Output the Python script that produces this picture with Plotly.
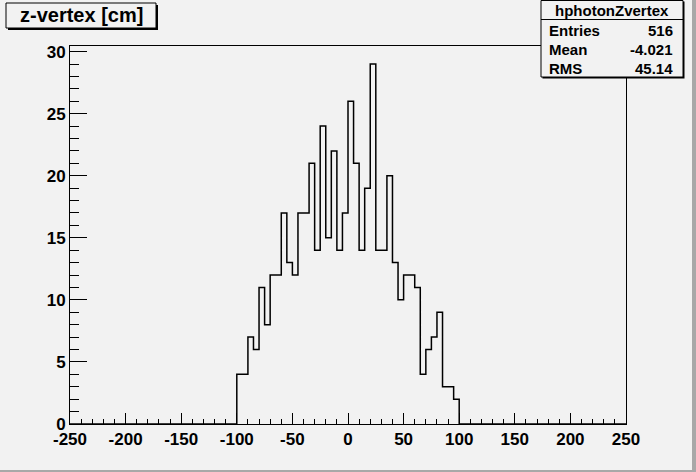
import numpy as np
import plotly.graph_objects as go

# ---- data ----
bin_low_edges = [-100, -95, -90, -85, -80, -75, -70, -65, -60, -55,
                 -50, -45, -40, -35, -30, -25, -20, -15, -10, -5,
                 0, 5, 10, 15, 20, 25, 30, 35, 40, 45,
                 50, 55, 60, 65, 70, 75, 80, 85, 90, 95]
counts = [4, 4, 7, 6, 11, 8, 12, 12, 17, 13,
          12, 17, 17, 21, 14, 24, 15, 22, 14, 17,
          26, 21, 14, 19, 29, 14, 14, 20, 13, 10,
          12, 12, 11, 4, 6, 7, 9, 3, 3, 2]
bin_width = 5
x_range = [-250, 250]
y_max = 30.45
x_tick_vals = [-250, -200, -150, -100, -50, 0, 50, 100, 150, 200, 250]
x_tick_text = ["-250", "-200", "-150", "-100", "-50", "0", "50", "100", "150", "200", "250"]
y_tick_vals = [0, 5, 10, 15, 20, 25, 30]
y_tick_text = ["0", "5", "10", "15", "20", "25", "30"]
title_text = "z-vertex [cm]"
stats_title = "hphotonZvertex"
stats_labels = ["Entries", "Mean", "RMS"]
stats_values = ["516", "-4.021", "45.14"]

# full step outline over axis range
xs = [x_range[0]] + bin_low_edges + [bin_low_edges[-1] + bin_width, x_range[1]]
ys = [0] + counts + [0, 0]

BG = "#f2f2f2"
W, H = 696, 472
L, R, T, B = 70, 70, 46, 48
PW, PH = W - L - R, H - T - B

def px(x):
    return (x - L) / PW

def py(y):
    return (H - B - y) / PH

fig = go.Figure()
fig.add_trace(go.Scatter(x=xs, y=ys, mode="lines", line=dict(color="black", width=1.5, shape="hv"),
                         hoverinfo="skip", showlegend=False))

font_bold = dict(family="Liberation Sans, Arial, sans-serif", color="black", weight="bold")

shapes = []
annotations = []

# title box with shadow
shapes.append(dict(type="rect", xref="paper", yref="paper", x0=px(8), x1=px(158), y0=py(5), y1=py(30),
                   fillcolor="black", line=dict(width=0), layer="above"))
shapes.append(dict(type="rect", xref="paper", yref="paper", x0=px(6), x1=px(156), y0=py(3), y1=py(28),
                   fillcolor=BG, line=dict(color="black", width=1), layer="above"))
annotations.append(dict(xref="paper", yref="paper", x=px(81.5), y=py(15.5), text=title_text, showarrow=False,
                        xanchor="center", yanchor="middle", font=dict(size=20, **font_bold)))

# stats box with shadow
shapes.append(dict(type="rect", xref="paper", yref="paper", x0=px(542.5), x1=px(684.5), y0=py(1.5), y1=py(78.5),
                   fillcolor="black", line=dict(width=0), layer="above"))
shapes.append(dict(type="rect", xref="paper", yref="paper", x0=px(541), x1=px(683), y0=py(0.5), y1=py(77),
                   fillcolor=BG, line=dict(color="black", width=1), layer="above"))
shapes.append(dict(type="line", xref="paper", yref="paper", x0=px(541), x1=px(683), y0=py(19.5), y1=py(19.5),
                   line=dict(color="black", width=1), layer="above"))
annotations.append(dict(xref="paper", yref="paper", x=px(612), y=py(10.5), text=stats_title, showarrow=False,
                        xanchor="center", yanchor="middle", font=dict(size=15, **font_bold)))
row_y = [30.5, 49.5, 68.5]
for lab, val, yy in zip(stats_labels, stats_values, row_y):
    annotations.append(dict(xref="paper", yref="paper", x=px(547), y=py(yy), text=lab, showarrow=False,
                            xanchor="left", yanchor="middle", font=dict(size=15, **font_bold)))
    annotations.append(dict(xref="paper", yref="paper", x=px(675), y=py(yy), text=val, showarrow=False,
                            xanchor="right", yanchor="middle", font=dict(size=15, **font_bold)))

# canvas border bands
shapes.append(dict(type="rect", xref="paper", yref="paper", x0=px(692), x1=px(697), y0=py(-1), y1=py(473),
                   fillcolor="#a8a8a8", line=dict(width=0), layer="below"))
shapes.append(dict(type="rect", xref="paper", yref="paper", x0=px(-1), x1=px(697), y0=py(470), y1=py(473),
                   fillcolor="#a8a8a8", line=dict(width=0), layer="below"))

fig.update_layout(
    width=W, height=H,
    margin=dict(l=L, r=R, t=T, b=B),
    paper_bgcolor=BG, plot_bgcolor=BG,
    showlegend=False,
    shapes=shapes, annotations=annotations,
    xaxis=dict(range=x_range, showgrid=False, zeroline=False, showline=True, mirror=True,
               linecolor="black", linewidth=1,
               ticks="inside", ticklen=11, tickcolor="black", tickwidth=1,
               tickmode="array", tickvals=x_tick_vals, ticktext=x_tick_text,
               tickfont=dict(size=17, **font_bold),
               minor=dict(ticks="inside", ticklen=5.5, tick0=0, dtick=10, tickcolor="black", showgrid=False)),
    yaxis=dict(range=[0, y_max], showgrid=False, zeroline=False, showline=True, mirror=True,
               linecolor="black", linewidth=1,
               ticks="inside", ticklen=17, tickcolor="black", tickwidth=1,
               tickmode="array", tickvals=y_tick_vals, ticktext=y_tick_text,
               tickfont=dict(size=17, **font_bold),
               minor=dict(ticks="inside", ticklen=9, tick0=0, dtick=1, tickcolor="black", showgrid=False)),
)

fig.write_html("out.html", config={"displayModeBar": False},
               post_script="document.body.style.margin='0px';document.body.style.overflow='hidden';")
